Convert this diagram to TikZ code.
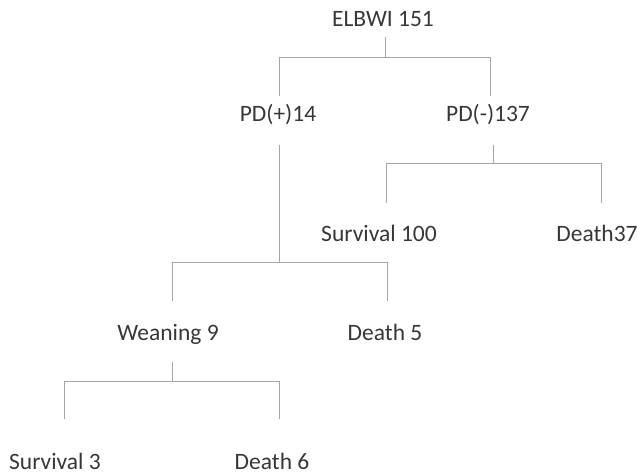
\documentclass[tikz,border=0pt]{standalone}
\usepackage{fontspec}
\setmainfont{Carlito}
\usepackage{xcolor}
\definecolor{txtgray}{RGB}{55,55,55}
\definecolor{linegray}{RGB}{165,165,165}
\tikzset{
  lbl/.style={anchor=base, inner sep=0pt, text=txtgray, font=\fontsize{23.5}{28}\selectfont},
  branch/.style={draw=linegray, line width=0.9pt}
}
\begin{document}
\begin{tikzpicture}[x=1pt,y=1pt]
        \useasboundingbox (0,0) rectangle (637,475);
        \node[lbl] (elbwi) at (383,448) {ELBWI 151};
        \node[lbl] (pdp) at (278,353) {PD(+)14};
        \node[lbl] (pdm) at (488,353) {PD(-)137};
        \node[lbl] (sv100) at (379,234) {Survival 100};
        \node[lbl] (d37) at (597,234) {Death37};
        \node[lbl] (wean) at (168,135) {Weaning 9};
        \node[lbl] (d5) at (385,135) {Death 5};
        \node[lbl] (sv3) at (55,6) {Survival 3};
        \node[lbl] (d6) at (272,6) {Death 6};
        \draw[branch] ([xshift=2pt,yshift=-10pt]elbwi.base) -- ++(0,-20) coordinate (j1) -| ([xshift=1pt,yshift=26pt]pdp.base);
        \draw[branch] (j1) -| ([xshift=2pt,yshift=26pt]pdm.base);
        \draw[branch] ([xshift=5pt,yshift=-23pt]pdm.base) -- ++(0,-18) coordinate (j2) -| ([xshift=7pt,yshift=38pt]sv100.base);
        \draw[branch] (j2) -| ([xshift=4pt,yshift=38pt]d37.base);
        \draw[branch] ([xshift=1pt,yshift=-23pt]pdp.base) -- ++(0,-117) coordinate (j3) -| ([xshift=4pt,yshift=39pt]wean.base);
        \draw[branch] (j3) -| ([xshift=2pt,yshift=39pt]d5.base);
        \draw[branch] ([xshift=4pt,yshift=-22pt]wean.base) -- ++(0,-19) coordinate (j4) -| ([xshift=9pt,yshift=50pt]sv3.base);
        \draw[branch] (j4) -| ([xshift=7pt,yshift=50pt]d6.base);
\end{tikzpicture}
\end{document}
